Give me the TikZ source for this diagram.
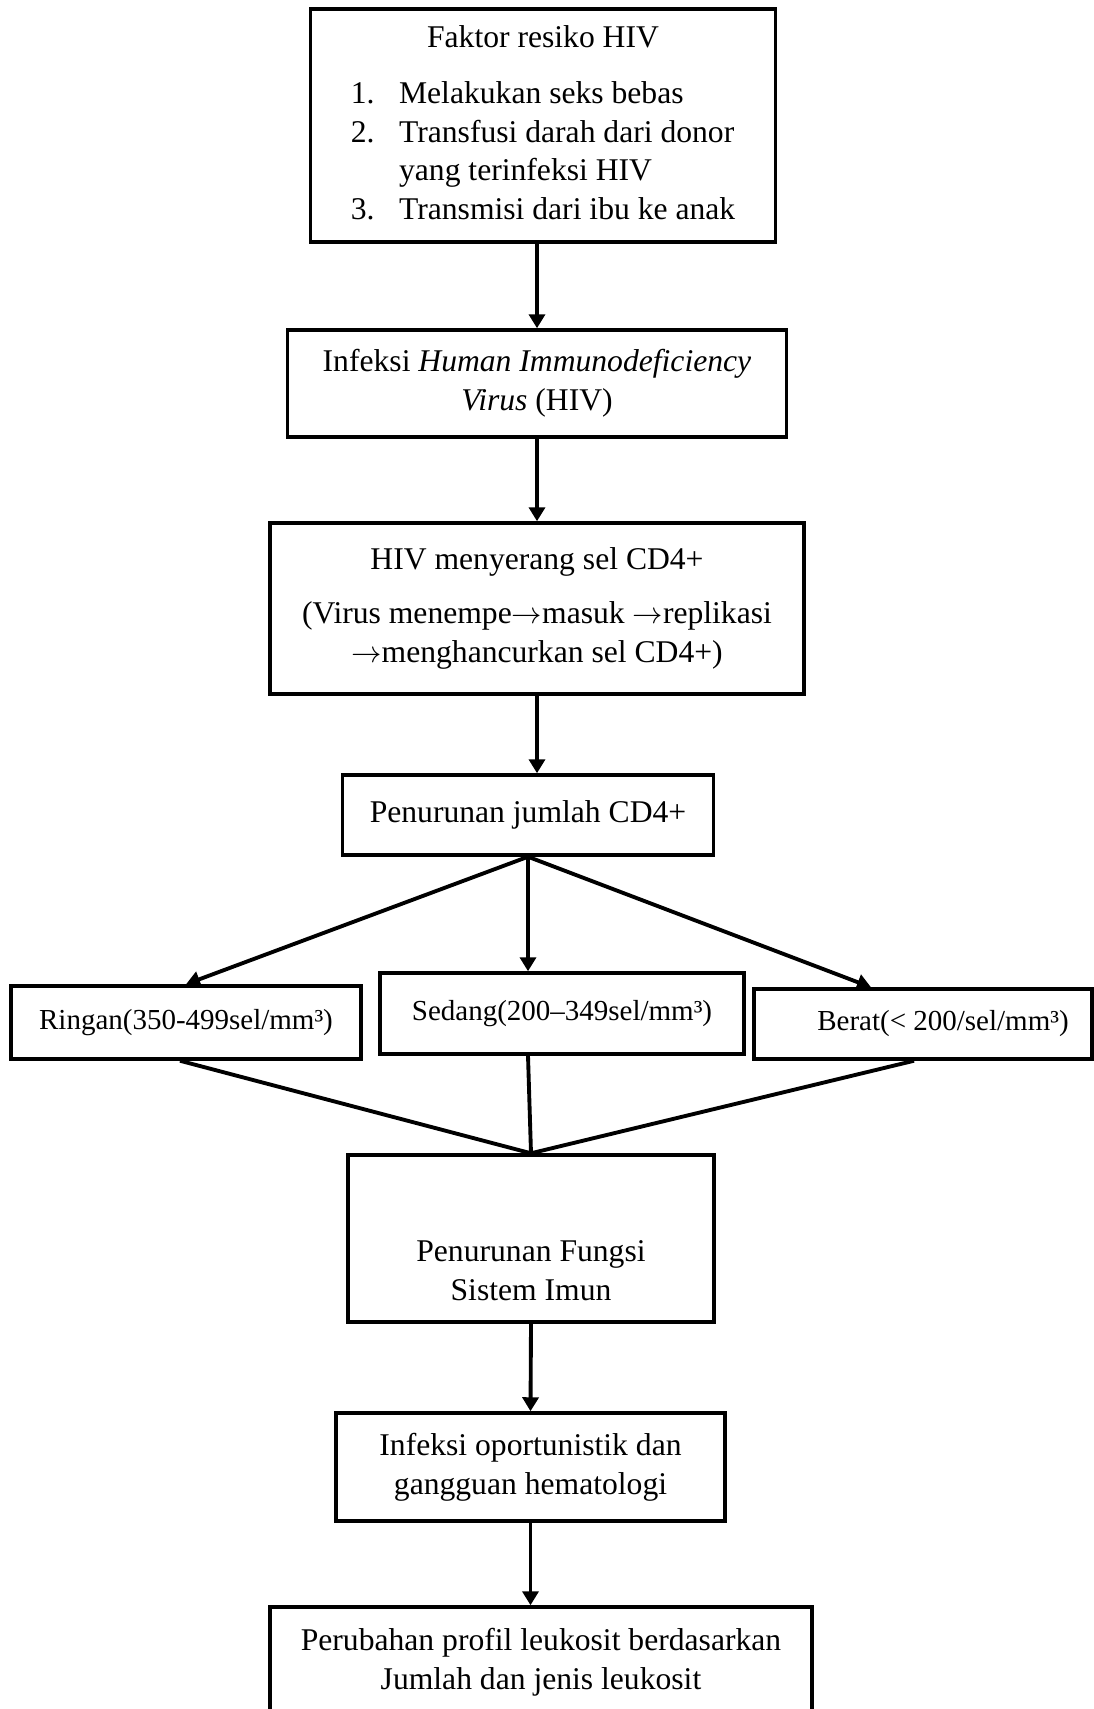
\documentclass[tikz,border=0pt]{standalone}
\usepackage{fontspec}
\setmainfont{Liberation Serif}
\usetikzlibrary{arrows.meta}

\tikzset{
  kotak/.style={draw=black, line width=2pt, align=center, inner sep=4pt,
    font=\fontsize{18}{22}\selectfont},
  kotakkecil/.style={kotak, font=\fontsize{16.5}{20}\selectfont},
  panah/.style={line width=2.2pt, -{Triangle[length=0.28cm,width=0.32cm]}},
  garis/.style={line width=2.2pt}
}

\begin{document}
\begin{tikzpicture}[x=0.02cm, y=-0.02cm]
  \useasboundingbox (0,0) rectangle (1094,1709);

  \node[kotak, minimum width=9.3cm, minimum height=4.66cm] (faktor) at (543,125.5) {%
    \begin{tabular}{@{}l@{\hspace{14pt}}l@{}}
      \multicolumn{2}{c}{Faktor resiko HIV}\\[10pt]
      1. & Melakukan seks bebas\\
      2. & Transfusi darah dari donor\\
         & yang terinfeksi HIV\\
      3. & Transmisi dari ibu ke anak
    \end{tabular}};
  \node[kotak, minimum width=9.98cm, minimum height=2.14cm] (infeksi) at (537,383.5)
    {Infeksi \textit{Human Immunodeficiency}\\\textit{Virus} (HIV)};
  \node[kotak, minimum width=10.68cm, minimum height=3.42cm] (serang) at (537,608.5)
    {HIV menyerang sel CD4+\\[9pt](Virus menempe$\rightarrow$masuk $\rightarrow$replikasi\\$\rightarrow$menghancurkan sel CD4+)};
  \node[kotak, minimum width=7.42cm, minimum height=1.6cm] (turun) at (528,815)
    {Penurunan jumlah CD4+};

  \node[kotakkecil, minimum width=7cm, minimum height=1.46cm] (ringan) at (186,1022.5)
    {Ringan(350-499sel/mm³)};
  \node[kotakkecil, minimum width=7.28cm, minimum height=1.62cm] (sedang) at (562,1013.5)
    {Sedang(200–349sel/mm³)};
  \node[kotakkecil, minimum width=6.76cm, minimum height=1.4cm] (berat) at (923,1024)
    {\hspace*{0.8cm}Berat(< 200/sel/mm³)};

  \node[kotak, minimum width=7.32cm, minimum height=3.34cm, text height=2.49cm] (fungsi) at (531,1238.5)
    {Penurunan Fungsi\\Sistem Imun};
  \node[kotak, minimum width=7.78cm, minimum height=2.16cm] (oport) at (530.5,1467)
    {Infeksi oportunistik dan\\gangguan hematologi};
  \node[kotak, minimum width=10.84cm, minimum height=2.2cm] (ubah) at (541,1662)
    {Perubahan profil leukosit berdasarkan\\Jumlah dan jenis leukosit};

  \draw[panah] (faktor.south -| infeksi.north) -- (infeksi.north);
  \draw[panah] (infeksi.south) -- (serang.north);
  \draw[panah] (serang.south) -- (serang.south |- turun.north);
  \draw[panah] (turun.south) -- (ringan.north);
  \draw[panah] (turun.south) -- (turun.south |- sedang.north);
  \draw[panah] (turun.south) -- ([xshift=-1.04cm]berat.north);
  \draw[garis] ([xshift=-0.12cm]ringan.south) -- (fungsi.north);
  \draw[garis] (sedang.south -| turun.south) -- (fungsi.north);
  \draw[garis] ([xshift=-0.18cm]berat.south) -- (fungsi.north);
  \draw[panah] (fungsi.south) -- (oport.north);
  \draw[panah] (oport.south) -- (oport.south |- ubah.north);
\end{tikzpicture}
\end{document}
